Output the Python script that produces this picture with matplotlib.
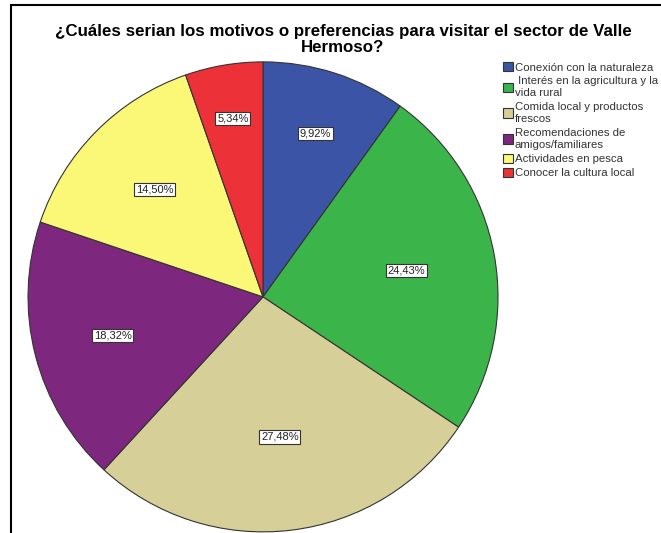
import numpy as np
import matplotlib.pyplot as plt
from matplotlib.patches import Rectangle

# data
labels = [
    "Conexión con la naturaleza",
    " Interés en la agricultura y la\nvida rural",
    "Comida local y productos\nfrescos",
    "Recomendaciones de\namigos/familiares",
    "Actividades en pesca",
    "Conocer la cultura local",
]
values = [9.92, 24.43, 27.48, 18.32, 14.50, 5.34]
pct_labels = ["9,92%", "24,43%", "27,48%", "18,32%", "14,50%", "5,34%"]
colors = ["#3b54a6", "#3bb54a", "#d6cf98", "#7d277e", "#fcf877", "#ec3238"]

title = "¿Cuáles serian los motivos o preferencias para visitar el sector de Valle\nHermoso?"

plt.rcParams['font.family'] = ['Liberation Sans', 'DejaVu Sans']

fig = plt.figure(figsize=(6.61, 5.33), dpi=100)

# outer frame
fig.add_artist(Rectangle((11 / 661, -0.05), 1.0, 1.05 - 5 / 533,
                         transform=fig.transFigure, fill=False,
                         edgecolor="black", linewidth=1.5))

ax = fig.add_axes([0.0424, 0.002, 0.711, 0.882])
wedges, _ = ax.pie(values, colors=colors, startangle=90, counterclock=False,
                   wedgeprops=dict(edgecolor="#333333", linewidth=0.8))
ax.set_xlim(-1, 1)
ax.set_ylim(-1, 1)
ax.set_aspect("equal")
ax.axis("off")

# percentage labels placed along each wedge's mid angle
label_r = [0.73, 0.62, 0.60, 0.66, 0.65, 0.77]
for w, txt, r in zip(wedges, pct_labels, label_r):
    ang = np.deg2rad((w.theta1 + w.theta2) / 2)
    ax.text(r * np.cos(ang), r * np.sin(ang), txt, ha="center", va="center",
            fontsize=8, color="#222222",
            bbox=dict(boxstyle="square,pad=0.15", facecolor="white",
                      edgecolor="#333333", linewidth=0.8))

fig.text(0.519, 0.926, title, ha="center", va="center", fontsize=12.2,
         fontweight="bold", linespacing=1.05)

plt.rcParams['legend.fontsize'] = 8.2
leg = fig.legend(wedges, labels, loc="upper left",
                 bbox_to_anchor=(503 / 661, 1 - 62 / 533), frameon=False,
                 handlelength=0.9, handleheight=0.9,
                 handletextpad=0.15, labelspacing=0.3, borderpad=0,
                 borderaxespad=0, labelcolor="#333333")
for t in leg.get_texts():
    t.set_linespacing(1.3)

fig.savefig("out.png", dpi=100)
